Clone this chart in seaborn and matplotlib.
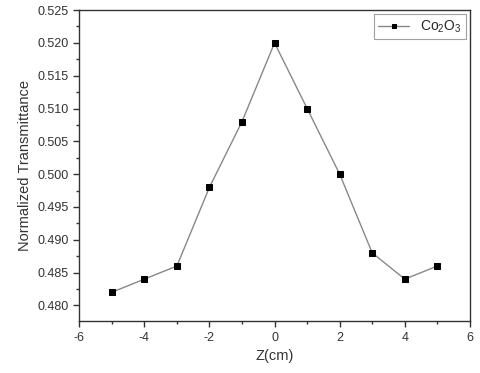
import matplotlib
matplotlib.use("Agg")
import matplotlib.pyplot as plt
import seaborn as sns
import pandas as pd
from matplotlib.ticker import MultipleLocator

z_cm = [-5, -4, -3, -2, -1, 0, 1, 2, 3, 4, 5]
transmittance = [0.482, 0.484, 0.486, 0.498, 0.508, 0.520, 0.510, 0.500, 0.488, 0.484, 0.486]
series_label = "Co$_2$O$_3$"

df = pd.DataFrame({"z": z_cm, "t": transmittance})

sns.set_style("ticks")
plt.rcParams["font.family"] = ["Liberation Sans", "DejaVu Sans"]
plt.rcParams["axes.unicode_minus"] = False
plt.rcParams["mathtext.fontset"] = "custom"
plt.rcParams["mathtext.rm"] = "Liberation Sans"
plt.rcParams["mathtext.it"] = "Liberation Sans"

fig = plt.figure(figsize=(4.8, 3.73), dpi=100)
ax = fig.add_axes([0.165, 0.139, 0.814, 0.834])

sns.lineplot(data=df, x="z", y="t", ax=ax, color="#888888", lw=1.0,
             marker="s", markersize=4.8, markerfacecolor="black",
             markeredgecolor="black", label=series_label)

ax.set_xlim(-6, 6)
ax.set_ylim(0.4776, 0.525)
ax.xaxis.set_major_locator(MultipleLocator(2))
ax.xaxis.set_minor_locator(MultipleLocator(1))
ax.yaxis.set_major_locator(MultipleLocator(0.005))
ax.yaxis.set_minor_locator(MultipleLocator(0.0025))
ax.yaxis.set_major_formatter(plt.FormatStrFormatter("%.3f"))

for s in ax.spines.values():
    s.set_color("#333333")
    s.set_linewidth(1.0)
ax.tick_params(which="major", direction="out", length=4, width=1, labelsize=9,
               colors="#333333", labelcolor="#333333")
ax.tick_params(which="minor", direction="out", length=2.5, width=1, colors="#333333")

ax.set_xlabel("Z(cm)", fontsize=10.5, color="#333333")
ax.set_ylabel("Normalized Transmittance", fontsize=10.5, color="#333333")

leg = ax.legend(loc="upper right", fontsize=10, frameon=True, fancybox=False,
                handlelength=2.2, borderaxespad=0.3, markerscale=0.7,
                borderpad=0.3)
leg.get_frame().set_edgecolor("#888888")
leg.get_frame().set_linewidth(0.8)

fig.savefig("out.png", dpi=100)
